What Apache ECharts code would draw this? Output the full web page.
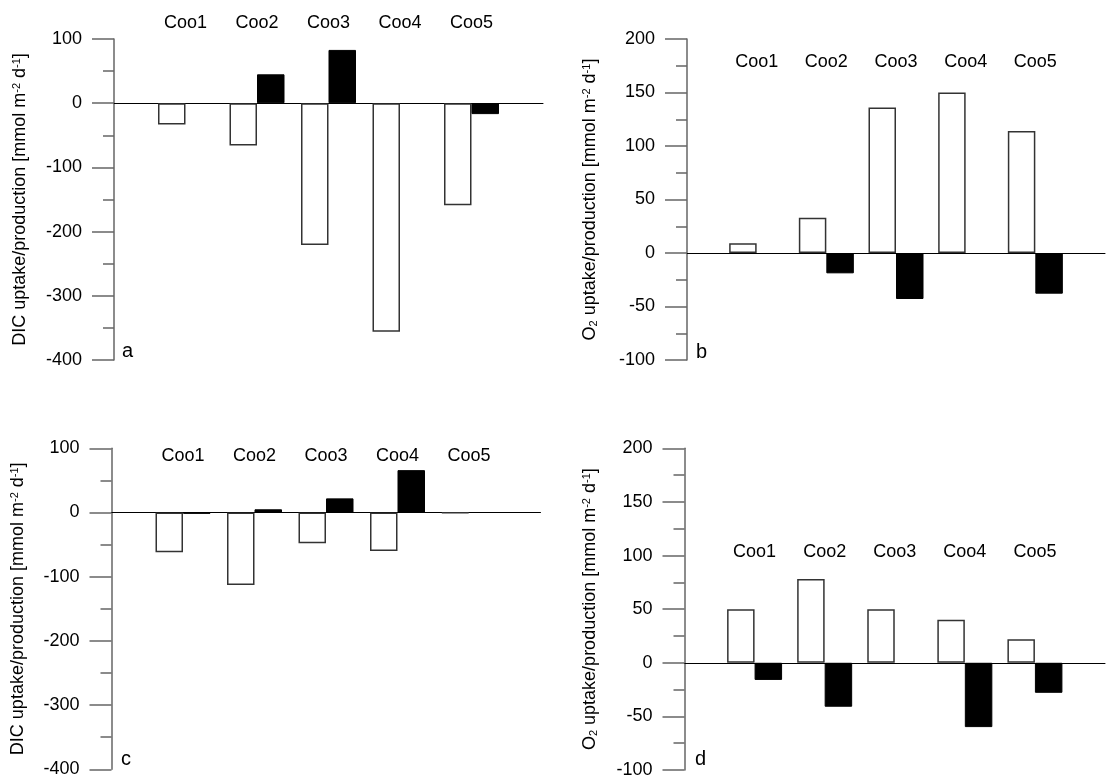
<!DOCTYPE html>
<html>
<head>
<meta charset="utf-8">
<script src="https://cdn.jsdelivr.net/npm/echarts@6/dist/echarts.min.js"></script>
<style>
  html, body { margin: 0; padding: 0; background: #fff; }
  #chart { width: 1108px; height: 780px; }
</style>
</head>
<body>
<div id="chart"></div>
<script>
// Sampling sites
const categories = ['Coo1', 'Coo2', 'Coo3', 'Coo4', 'Coo5'];

// (a) DIC uptake/production, open and filled bars
const dicA_open   = [-33, -66, -221, -356, -159];
const dicA_filled = [null, 45, 83, null, -17];

// (b) O2 uptake/production
const o2B_open   = [9, 33, 136, 150, 114];
const o2B_filled = [null, -19, -43, null, -38];

// (c) DIC uptake/production
const dicC_open   = [-62, -113, -48, -60, -1];
const dicC_filled = [-2, 5, 22, 66, null];

// (d) O2 uptake/production
const o2D_open   = [50, 78, 50, 40, 22];
const o2D_filled = [-16, -41, null, -60, -28];

// Value axis ranges and tick steps
const dicTicks = { min: -400, max: 100, interval: 100 };
const o2Ticks  = { min: -100, max: 200, interval: 50 };

const panelLetters = ['a', 'b', 'c', 'd'];

// An empty slot at both ends so the sites sit between the axis ends
const axisCats = [''].concat(categories, ['']);
const pad = arr => [null].concat(arr, [null]);

const dicName = '{n|DIC uptake/production [mmol m}{sup|-2}{n| d}{sup|-1}{n|]}';
const o2Name  = '{n|O}{sub|2}{n| uptake/production [mmol m}{sup|-2}{n| d}{sup|-1}{n|]}';

const FONT = 'Liberation Sans, Arial, Helvetica, sans-serif';
const FS = 18;

const panels = [
  { grid: { left: 114,   top: 39,    width: 429, height: 321 },   ticks: dicTicks, name: dicName, open: dicA_open, filled: dicA_filled, labelOffset: 16,   nameGap: 85,   letterX: 122, letterY: 357 },
  { grid: { left: 687,   top: 39,    width: 429, height: 321 },   ticks: o2Ticks,  name: o2Name,  open: o2B_open,  filled: o2B_filled,  labelOffset: -23.3, nameGap: 87.5, letterX: 696, letterY: 358 },
  { grid: { left: 111.5, top: 448.3, width: 429, height: 321 },   ticks: dicTicks, name: dicName, open: dicC_open, filled: dicC_filled, labelOffset: -7.4, nameGap: 84,   letterX: 121, letterY: 765 },
  { grid: { left: 684.5, top: 448.3, width: 429, height: 321.7 }, ticks: o2Ticks,  name: o2Name,  open: o2D_open,  filled: o2D_filled,  labelOffset: -104, nameGap: 85,   letterX: 695, letterY: 765 }
];

const grids = [], xAxes = [], yAxes = [], series = [], graphics = [];

panels.forEach((p, i) => {
  grids.push(Object.assign({ containLabel: false }, p.grid));

  // zero line
  xAxes.push({
    type: 'category', gridIndex: i, data: axisCats, boundaryGap: false,
    axisLine: { show: true, onZero: true, lineStyle: { color: '#000', width: 1 } },
    axisTick: { show: false }, axisLabel: { show: false }, splitLine: { show: false }
  });
  // site names
  xAxes.push({
    type: 'category', gridIndex: i, data: axisCats, boundaryGap: false,
    position: 'top', offset: p.labelOffset,
    axisLine: { show: false, onZero: false }, axisTick: { show: false }, splitLine: { show: false },
    axisLabel: { show: true, interval: 0, margin: 0, verticalAlign: 'middle',
                 color: '#000', fontSize: FS, fontFamily: FONT }
  });

  yAxes.push({
    type: 'value', gridIndex: i,
    min: p.ticks.min, max: p.ticks.max, interval: p.ticks.interval,
    name: p.name, nameLocation: 'middle', nameGap: p.nameGap,
    nameTextStyle: {
      color: '#000', fontFamily: FONT, fontSize: FS,
      rich: {
        n:   { fontSize: FS, fontFamily: FONT, color: '#000' },
        sup: { fontSize: 11, fontFamily: FONT, color: '#000', verticalAlign: 'top' },
        sub: { fontSize: 11, fontFamily: FONT, color: '#000', verticalAlign: 'bottom' }
      }
    },
    axisLine: { show: true, lineStyle: { color: '#666', width: 1.5 } },
    axisTick: { show: true, length: 22, lineStyle: { color: '#666', width: 1.5 } },
    minorTick: { show: true, splitNumber: 2, length: 11, lineStyle: { color: '#666', width: 1.5 } },
    axisLabel: { margin: 32, color: '#000', fontSize: FS, fontFamily: FONT },
    splitLine: { show: false }, minorSplitLine: { show: false }
  });

  series.push({
    type: 'bar', xAxisIndex: 2 * i, yAxisIndex: i, data: pad(p.open),
    barWidth: 27.5, barGap: '0%', silent: true,
    itemStyle: { color: '#fff', borderColor: '#333', borderWidth: 1.5 }
  });
  series.push({
    type: 'bar', xAxisIndex: 2 * i, yAxisIndex: i, data: pad(p.filled),
    barWidth: 27.5, barGap: '0%', silent: true,
    itemStyle: { color: '#000', borderColor: '#000', borderWidth: 1 }
  });

  graphics.push({
    type: 'text', x: p.letterX, y: p.letterY + 4.5,
    style: { text: panelLetters[i], fill: '#000', font: '20px ' + FONT, verticalAlign: 'bottom', align: 'left' }
  });
});

const chart = echarts.init(document.getElementById('chart'), null, { renderer: 'canvas' });
chart.setOption({
  animation: false,
  backgroundColor: '#fff',
  grid: grids,
  xAxis: xAxes,
  yAxis: yAxes,
  series: series,
  graphic: graphics
});
</script>
</body>
</html>
